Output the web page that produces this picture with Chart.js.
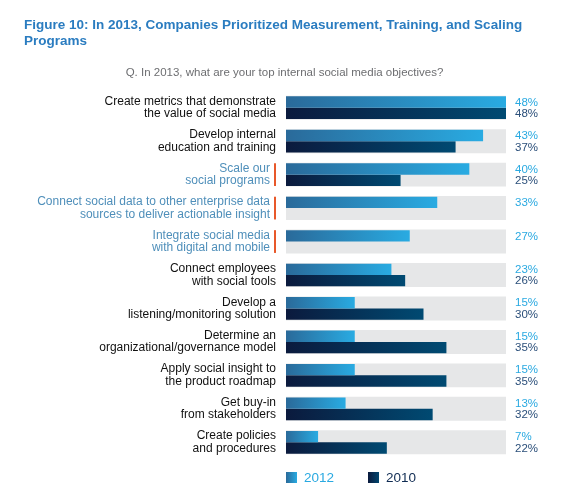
<!DOCTYPE html>
<html>
<head>
<meta charset="utf-8">
<script src="https://cdn.jsdelivr.net/npm/chart.js@4"></script>
<style>
  body { margin: 0; background: #fff; font-family: "Liberation Sans", Arial, sans-serif; }
  #wrap { position: relative; width: 569px; height: 495px; overflow: hidden; }
  #chart { position: absolute; left: 0; top: 0; }
  .title { position: absolute; left: 24px; top: 17px; width: 530px; font-size: 13.5px; line-height: 16px; font-weight: bold; color: #2a7cc0; }
  .sub { position: absolute; left: 0; top: 66px; width: 569px; text-align: center; font-size: 11.5px; color: #6d6e71; }
  .leg { position: absolute; top: 470px; font-size: 13.5px; line-height: 16px; }
  .leg i { display: inline-block; width: 11px; height: 11px; vertical-align: -1px; margin-right: 7px; }
</style>
</head>
<body>
<div id="wrap">
  <canvas id="chart" width="569" height="495"></canvas>
  <div class="title">Figure 10: In 2013, Companies Prioritized Measurement, Training, and Scaling Programs</div>
  <div class="sub">Q. In 2013, what are your top internal social media objectives?</div>
  <div class="leg" style="left:286px;color:#29a9e1"><i style="background:linear-gradient(90deg,#2a6a9a,#29abe2)"></i>2012</div>
  <div class="leg" style="left:368px;color:#0f2b52"><i style="background:linear-gradient(90deg,#0b1a3d,#00456e)"></i>2010</div>
</div>
<script>
const categories = [
  ["Create metrics that demonstrate", "the value of social media"],
  ["Develop internal", "education and training"],
  ["Scale our", "social programs"],
  ["Connect social data to other enterprise data", "sources to deliver actionable insight"],
  ["Integrate social media", "with digital and mobile"],
  ["Connect employees", "with social tools"],
  ["Develop a", "listening/monitoring solution"],
  ["Determine an", "organizational/governance model"],
  ["Apply social insight to", "the product roadmap"],
  ["Get buy-in", "from stakeholders"],
  ["Create policies", "and procedures"]
];
const highlighted = [false, false, true, true, true, false, false, false, false, false, false];
const values2012 = [48, 43, 40, 33, 27, 23, 15, 15, 15, 13, 7];
const values2010 = [48, 37, 25, null, null, 26, 30, 35, 35, 32, 22];
const scaleMax = 48;

// blue labels end a bit earlier to leave room for the orange marker
const labels = categories.map((c, i) => highlighted[i] ? c.map(s => s + "\u2002") : c);

function barGradient(from, to) {
  return ctx => {
    const chart = ctx.chart;
    if (!chart.chartArea || ctx.raw == null) return from;
    const x = chart.scales.x;
    const g = chart.ctx.createLinearGradient(x.getPixelForValue(0), 0, x.getPixelForValue(ctx.raw), 0);
    g.addColorStop(0, from);
    g.addColorStop(1, to);
    return g;
  };
}

const valueLabels = {
  id: "valueLabels",
  afterDatasetsDraw(chart) {
    const c = chart.ctx;
    const x = chart.chartArea.right + 9;
    c.save();
    c.font = "11.5px 'Liberation Sans', Arial, sans-serif";
    c.textAlign = "left";
    c.textBaseline = "middle";
    [[0, "#29a9e1"], [1, "#2b4f7a"]].forEach(([di, col]) => {
      const meta = chart.getDatasetMeta(di);
      const data = chart.data.datasets[di].data;
      meta.data.forEach((bar, i) => {
        if (data[i] == null) return;
        c.fillStyle = col;
        c.fillText(data[i] + "%", x, bar.y + 0.5);
      });
    });
    // orange markers next to the highlighted labels
    const top = chart.getDatasetMeta(2).data;
    const bot = chart.getDatasetMeta(3).data;
    c.fillStyle = "#e8582a";
    highlighted.forEach((h, i) => {
      if (!h) return;
      const y0 = top[i].y - top[i].height / 2;
      const y1 = bot[i].y + bot[i].height / 2;
      c.fillRect(chart.chartArea.left - 12, y0, 2, y1 - y0);
    });
    c.restore();
  }
};

new Chart(document.getElementById("chart"), {
  type: "bar",
  data: {
    labels,
    datasets: [
      { label: "2012", data: values2012, stack: "a", order: 1, backgroundColor: barGradient("#2a6a9a", "#29abe2") },
      { label: "2010", data: values2010, stack: "b", order: 1, backgroundColor: barGradient("#0b1a3d", "#004a72") },
      { label: "bg2012", data: categories.map(() => scaleMax), stack: "a", order: 2, inflateAmount: 0.6, backgroundColor: "#e6e7e8" },
      { label: "bg2010", data: categories.map(() => scaleMax), stack: "b", order: 2, inflateAmount: 0.6, backgroundColor: "#e6e7e8" }
    ]
  },
  options: {
    indexAxis: "y",
    responsive: false,
    animation: false,
    categoryPercentage: 0.68,
    barPercentage: 1.0,
    layout: { padding: { left: 0, right: 63, top: 91, bottom: 36 } },
    scales: {
      x: { min: 0, max: scaleMax, stacked: false, display: false },
      y: {
        grid: { display: false, drawTicks: false },
        border: { display: false },
        ticks: {
          padding: 10,
          font: { family: "'Liberation Sans', Arial, sans-serif", size: 12, lineHeight: 1.04 },
          color: ctx => highlighted[ctx.index] ? "#4f8fba" : "#111111"
        },
        afterFit(scale) { scale.width = 286; }
      }
    },
    plugins: { legend: { display: false }, tooltip: { enabled: false } }
  },
  plugins: [valueLabels]
});
</script>
</body>
</html>
